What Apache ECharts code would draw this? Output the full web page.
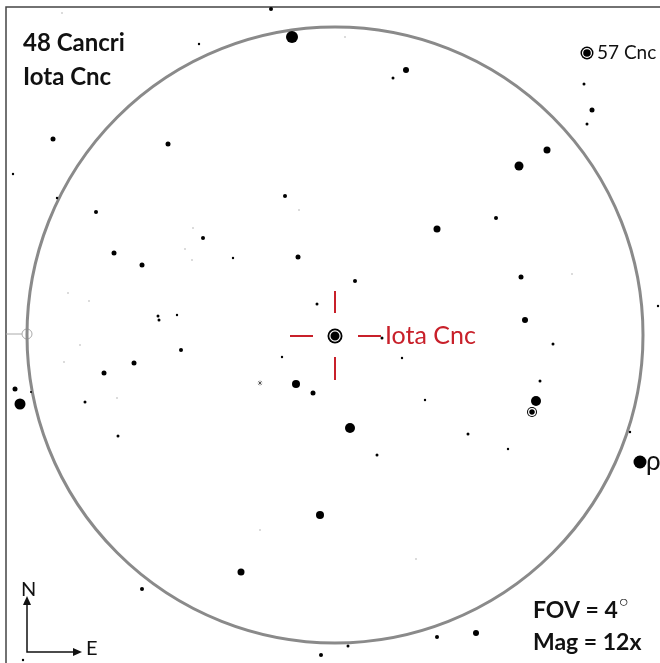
<!DOCTYPE html>
<html>
<head>
<meta charset="utf-8">
<script src="https://cdn.jsdelivr.net/npm/echarts@6/dist/echarts.min.js"></script>
<style>
  html, body { margin: 0; padding: 0; background: #fff; }
  #chart { width: 660px; height: 663px; }
</style>
</head>
<body>
<div id="chart"></div>
<script>
// star positions: [x, y, brightness]
const stars = [
  [271, 9, 2], [292, 37, 6], [406, 70, 3], [393, 78, 1.5], [199, 44, 1.2],
  [53, 139, 2.5], [168, 144, 2.5], [13, 174, 1.2], [57, 198, 1.2], [96, 212, 2],
  [285, 196, 2], [584, 84, 1.5], [592, 110, 2.5], [587, 124, 1.5], [547, 150, 3.5],
  [519, 166, 4.5], [496, 218, 2], [437, 229, 3.5],
  [203, 238, 2], [114, 253, 2.5], [142, 265, 2.5], [158, 316, 1.5], [159, 320, 1.5],
  [177, 315, 1.2], [181, 350, 2], [134, 363, 2.5], [104, 373, 2.5], [15, 389, 2.5],
  [20, 404, 5.5], [31, 392, 1], [85, 402, 1.5], [118, 436, 1.5],
  [233, 258, 1.2], [298, 257, 2.5], [355, 281, 2], [317, 304, 1.5], [382, 338, 1.5],
  [282, 357, 1.2], [402, 358, 1.2], [296, 384, 4], [313, 393, 2.5], [425, 400, 1.2],
  [350, 428, 5],
  [521, 277, 2.5], [525, 320, 3], [553, 344, 1.5], [540, 381, 1.5], [536, 401, 5],
  [468, 434, 1.5], [658, 306, 1.2], [630, 432, 1.2], [508, 449, 1.2], [640, 462, 6.5],
  [476, 633, 3], [377, 455, 1.5], [320, 515, 4], [241, 572, 3.5], [348, 646, 1.5],
  [321, 655, 2], [437, 637, 2], [142, 589, 2], [23, 660, 1.2]
];
// stars drawn with a white ring (double / highlighted)
const ringStars = [
  [587, 53, 6.5], [335, 336, 7.5], [532, 412, 5], [260, 383, 2.2]
];
// very faint field stars
const faintStars = [
  [62, 13], [345, 37], [299, 210], [68, 293], [89, 301], [80, 345], [64, 362],
  [185, 249], [193, 228], [192, 260], [117, 398], [572, 274], [416, 559], [260, 530]
];
// field of view circle: centre and radius
const fovCircle = [[335, 335, 308]];
const labelNames = ['57 Cnc', 'Iota Cnc', 'ρ'];
const labelAt = [[587, 53], [335, 336], [640, 462]];
const target = [335, 336];

const chart = echarts.init(document.getElementById('chart'));
const sizeOf = b => b * 2;

const option = {
  animation: false,
  backgroundColor: '#fff',
  grid: { left: 0, right: 0, top: 0, bottom: 0 },
  xAxis: { type: 'value', min: 0, max: 660, show: false },
  yAxis: { type: 'value', min: 0, max: 663, inverse: true, show: false },
  graphic: [
    {
      type: 'polyline',
      shape: { points: [[6, 700], [6, 7], [700, 7]] },
      style: { stroke: '#444', lineWidth: 1.5, fill: null }
    },
    {
      type: 'line',
      shape: { x1: 6, y1: 334, x2: 22, y2: 334 },
      style: { stroke: '#aaa', lineWidth: 1 }
    },
    {
      type: 'circle',
      shape: { cx: 27, cy: 334, r: 5 },
      style: { stroke: '#aaa', lineWidth: 1, fill: null }
    },
    {
      type: 'text', left: 23, top: 26,
      style: { text: '48 Cancri\nIota Cnc', font: 'bold 24px Lato', lineHeight: 34, fill: '#111' }
    },
    {
      type: 'text', left: 533, top: 595,
      style: {
        text: 'FOV = 4{d|○}\nMag = 12x',
        font: 'bold 23px Lato', lineHeight: 32, fill: '#111',
        rich: { d: { fontSize: 16, fontWeight: 'normal', verticalAlign: 'top', padding: [0, 0, 8, 1], fill: '#111' } }
      }
    },
    // compass
    {
      type: 'polyline',
      shape: { points: [[27, 603], [27, 652], [74, 652]] },
      style: { stroke: '#111', lineWidth: 1.5, fill: null }
    },
    {
      type: 'polygon',
      shape: { points: [[23, 605], [31, 605], [27, 596]] },
      style: { fill: '#111' }
    },
    {
      type: 'polygon',
      shape: { points: [[73, 648], [73, 656], [82, 652]] },
      style: { fill: '#111' }
    },
    { type: 'text', left: 21, top: 580, style: { text: 'N', font: '20px Lato', fill: '#111' } },
    { type: 'text', left: 86, top: 639, style: { text: 'E', font: '20px Lato', fill: '#111' } }
  ],
  series: [
    {
      type: 'scatter',
      data: fovCircle,
      symbolSize: d => d[2] * 2,
      itemStyle: { color: 'rgba(0,0,0,0)', borderColor: '#8a8a8a', borderWidth: 3, opacity: 1 },
      silent: true, z: 1
    },
    {
      type: 'scatter',
      data: faintStars,
      symbolSize: 2,
      itemStyle: { color: '#d0d0d0', opacity: 1 },
      z: 2
    },
    {
      type: 'scatter',
      data: stars,
      symbolSize: d => sizeOf(d[2]),
      itemStyle: { color: '#000', opacity: 1 },
      z: 3
    },
    {
      type: 'scatter',
      data: ringStars,
      symbolSize: d => sizeOf(d[2]),
      itemStyle: { color: '#000', opacity: 1 },
      z: 3
    },
    {
      type: 'scatter',
      data: ringStars,
      symbolSize: d => sizeOf(d[2]) * 0.68,
      itemStyle: { color: '#000', borderColor: '#fff', borderWidth: 1.2, opacity: 1 },
      z: 4
    },
    {
      // red crosshair around the target star
      type: 'custom',
      data: [target],
      renderItem: (params, api) => {
        const c = api.coord([api.value(0), api.value(1)]);
        const segs = [[0, -45, 0, -23], [0, 21, 0, 44], [-45, 0, -22, 0], [23, 0, 46, 0]];
        return {
          type: 'group',
          children: segs.map(s => ({
            type: 'line',
            shape: { x1: c[0] + s[0], y1: c[1] + s[1], x2: c[0] + s[2], y2: c[1] + s[3] },
            style: { stroke: '#c8202a', lineWidth: 2 }
          }))
        };
      },
      z: 5
    },
    {
      type: 'scatter',
      data: labelNames.map((n, i) => ({ name: n, value: labelAt[i] })),
      symbolSize: 0,
      itemStyle: { opacity: 1 },
      label: {
        show: true,
        position: 'right',
        formatter: p => p.name,
        color: '#111',
        fontFamily: 'Lato',
        fontSize: 18
      },
      z: 6
    }
  ]
};

// individual label styling
const lbl = option.series[option.series.length - 1].data;
lbl[0].label = { distance: 10, color: '#111', fontSize: 19 };
lbl[1].label = { distance: 50, color: '#c8202a', fontSize: 25 };
lbl[2].label = { distance: 6, color: '#111', fontSize: 26 };

chart.setOption(option);
</script>
</body>
</html>
